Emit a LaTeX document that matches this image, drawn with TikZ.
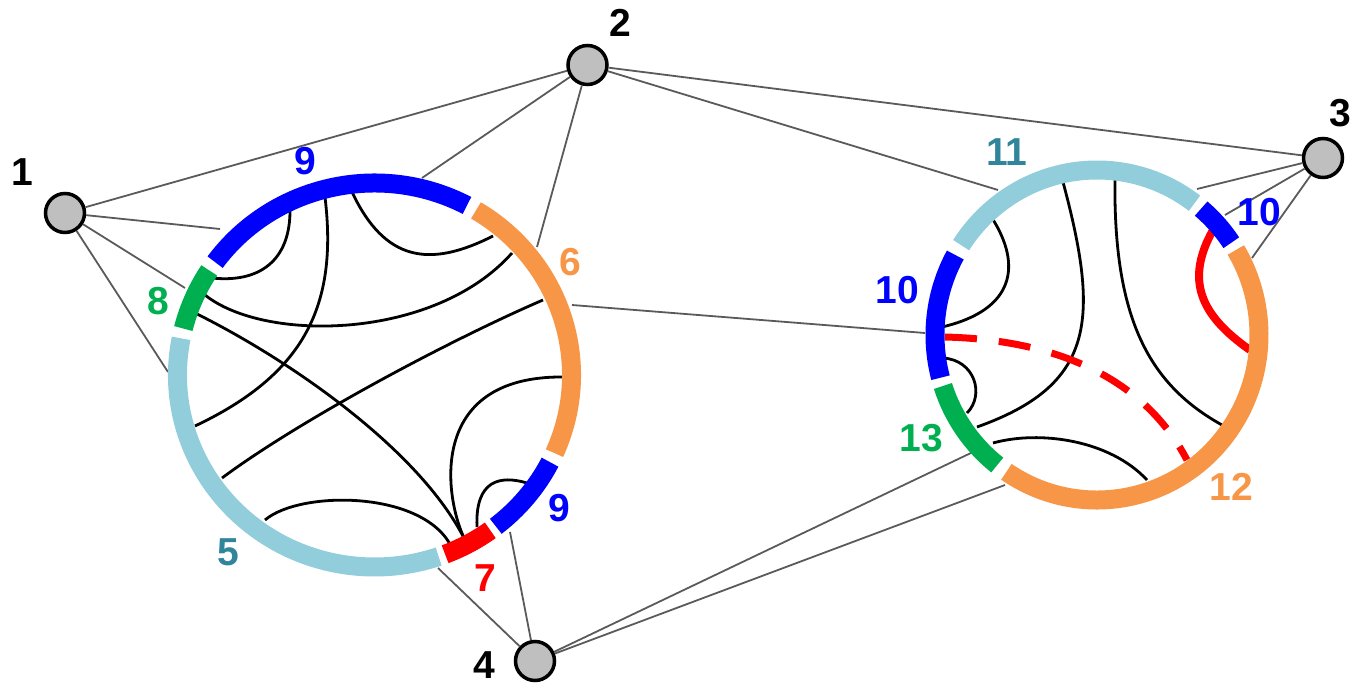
\documentclass[tikz,border=0pt]{standalone}
\usepackage{fontspec}
\setmainfont{Liberation Sans}
\definecolor{cBlue}{RGB}{0,0,255}
\definecolor{cOrange}{RGB}{247,150,70}
\definecolor{cGreen}{RGB}{0,176,80}
\definecolor{cLight}{RGB}{146,205,220}
\definecolor{cRed}{RGB}{255,0,0}
\definecolor{cTeal}{RGB}{49,133,155}
\definecolor{cEdge}{RGB}{90,90,90}
\definecolor{cNode}{RGB}{191,191,191}
\begin{document}
\begin{tikzpicture}[x=1pt,y=-1pt,
  edge/.style={draw=cEdge, line width=1.8pt},
  chord/.style={draw=black, line width=2.8pt},
  seg/.style={line width=19pt},
  vtx/.style={circle, draw=black, line width=3.5pt, fill=cNode, minimum size=39pt, inner sep=0pt},
  lbl/.style={font=\fontsize{39}{39}\selectfont\bfseries, inner sep=0pt}]
\useasboundingbox (0,0) rectangle (1353,684);

% centres of the two rings
\coordinate (L) at (374.5,375);
\coordinate (R) at (1097,335);

% graph nodes
\node[vtx] (n1) at (65,213) {};
\node[vtx] (n2) at (587.5,65) {};
\node[vtx] (n3) at (1323,158) {};
\node[vtx] (n4) at (535,661) {};

% attachment points on the rings
\coordinate (p1a) at (220,229);
\coordinate (p1b) at (185,288);
\coordinate (p1c) at (168,372);
\coordinate (p2a) at (422,178);
\coordinate (p2b) at (537,247);
\coordinate (pLR) at (572,305);
\coordinate (pRL) at (925,333);
\coordinate (p4a) at (438,568);
\coordinate (p4b) at (510,532);
\coordinate (p2c) at (998,190);
\coordinate (p3a) at (1197,189);
\coordinate (p3b) at (1225,215);
\coordinate (p3c) at (1252,258);
\coordinate (p4c) at (973,452);
\coordinate (p4d) at (1005,485);

% gray edges
\draw[edge] (n1) -- (n2);
\draw[edge] (n2) -- (n3);
\draw[edge] (n1) -- (p1a);
\draw[edge] (n1) -- (p1b);
\draw[edge] (n1) -- (p1c);
\draw[edge] (n2) -- (p2a);
\draw[edge] (n2) -- (p2b);
\draw[edge] (n2) -- (p2c);
\draw[edge] (pLR) -- (pRL);
\draw[edge] (n3) -- (p3a);
\draw[edge] (n3) -- (p3b);
\draw[edge] (n3) -- (p3c);
\draw[edge] (n4) -- (p4a);
\draw[edge] (n4) -- (p4b);
\draw[edge] (n4) -- (p4c);
\draw[edge] (n4) -- (p4d);

% chords of the left ring
\coordinate (a1) at (290,208); \coordinate (b1) at (212,278);
\coordinate (a2) at (325,197); \coordinate (b2) at (195,426);
\coordinate (a3) at (352,192); \coordinate (b3) at (493,236);
\coordinate (a4) at (205,295); \coordinate (b4) at (512,253);
\coordinate (a5) at (195,313); \coordinate (b5) at (465,540);
\coordinate (a6) at (543,300); \coordinate (b6) at (222,478);
\coordinate (a7) at (563,377); \coordinate (b7) at (465,540);
\coordinate (a8) at (265,520); \coordinate (b8) at (452,548);
\coordinate (a9) at (527,483); \coordinate (b9) at (477,527);
\draw[chord] (a1) .. controls (291,262) and (258,283) .. (b1);
\draw[chord] (a2) .. controls (338,305) and (305,374) .. (b2);
\draw[chord] (a3) .. controls (385,262) and (430,268) .. (b3);
\draw[chord] (a4) .. controls (265,343) and (435,340) .. (b4);
\draw[chord] (a5) .. controls (290,360) and (420,450) .. (b5);
\draw[chord] (a6) .. controls (450,340) and (300,420) .. (b6);
\draw[chord] (a7) .. controls (425,376) and (445,500) .. (b7);
\draw[chord] (a8) .. controls (300,490) and (425,490) .. (b8);
\draw[chord] (a9) .. controls (500,475) and (475,480) .. (b9);

% chords of the right ring
\coordinate (ra) at (992,218);  \coordinate (rb) at (942,327);
\coordinate (sa) at (1063,182); \coordinate (sb) at (977,427);
\coordinate (ta) at (1115,178); \coordinate (tb) at (1222,425);
\coordinate (ua) at (943,358);  \coordinate (ub) at (967,413);
\coordinate (va) at (993,443);  \coordinate (vb) at (1147,480);
\coordinate (wa) at (945,337);  \coordinate (wb) at (1187,460);
\coordinate (xa) at (1213,230); \coordinate (xb) at (1250,350);
\draw[chord] (ra) .. controls (1022,265) and (1015,310) .. (rb);
\draw[chord] (sa) .. controls (1100,320) and (1095,385) .. (sb);
\draw[chord] (ta) .. controls (1113,320) and (1150,385) .. (tb);
\draw[chord] (ua) .. controls (975,360) and (985,395) .. (ub);
\draw[chord] (va) .. controls (1040,430) and (1110,440) .. (vb);
\draw[draw=cRed, line width=7pt, dash pattern=on 32pt off 22pt] (wa) .. controls (1060,340) and (1145,380) .. (wb);
\draw[draw=cRed, line width=8pt] (xa) .. controls (1185,280) and (1200,315) .. (xb);

% left ring segments
\draw[seg, cBlue]   ([shift={(L)}]-62:197 and 192)  arc[start angle=-62,  end angle=-144, x radius=197, y radius=192];
\draw[seg, cGreen]  ([shift={(L)}]-147:197 and 192) arc[start angle=-147, end angle=-166, x radius=197, y radius=192];
\draw[seg, cLight]  ([shift={(L)}]-169:197 and 192) arc[start angle=-169, end angle=-289, x radius=197, y radius=192];
\draw[seg, cRed]    ([shift={(L)}]-291:197 and 192) arc[start angle=-291, end angle=-306, x radius=197, y radius=192];
\draw[seg, cBlue]   ([shift={(L)}]-308:197 and 192) arc[start angle=-308, end angle=-333, x radius=197, y radius=192];
\draw[seg, cOrange] ([shift={(L)}]-336:197 and 192) arc[start angle=-336, end angle=-419, x radius=197, y radius=192];

% right ring segments
\draw[seg, cLight]  ([shift={(R)}]-53:162 and 165)  arc[start angle=-53,  end angle=-147, x radius=162, y radius=165];
\draw[seg, cBlue]   ([shift={(R)}]-151:162 and 165) arc[start angle=-151, end angle=-195, x radius=162, y radius=165];
\draw[seg, cGreen]  ([shift={(R)}]-198:162 and 165) arc[start angle=-198, end angle=-232, x radius=162, y radius=165];
\draw[seg, cOrange] ([shift={(R)}]-236:162 and 165) arc[start angle=-236, end angle=-391, x radius=162, y radius=165];
\draw[seg, cBlue]   ([shift={(R)}]-34:162 and 165)  arc[start angle=-34,  end angle=-50,  x radius=162, y radius=165];

% node labels
\node[lbl] (t1) at (22,172) {1};
\node[lbl] (t2) at (620,23) {2};
\node[lbl] (t3) at (1340,113) {3};
\node[lbl] (t4) at (484,665) {4};

% segment labels, left ring
\node[lbl, text=cBlue]   (s9a) at (305,161) {9};
\node[lbl, text=cOrange] (s6)  at (570,262) {6};
\node[lbl, text=cGreen]  (s8)  at (158,301) {8};
\node[lbl, text=cTeal]   (s5)  at (228,552) {5};
\node[lbl, text=cRed]    (s7)  at (485,578) {7};
\node[lbl, text=cBlue]   (s9b) at (559,508) {9};

% segment labels, right ring
\node[lbl, text=cTeal]   (s11)  at (1007,152) {11};
\node[lbl, text=cBlue]   (s10a) at (1259,212) {10};
\node[lbl, text=cBlue]   (s10b) at (897,290) {10};
\node[lbl, text=cGreen]  (s13)  at (921,438) {13};
\node[lbl, text=cOrange] (s12)  at (1231,487) {12};
\end{tikzpicture}
\end{document}
